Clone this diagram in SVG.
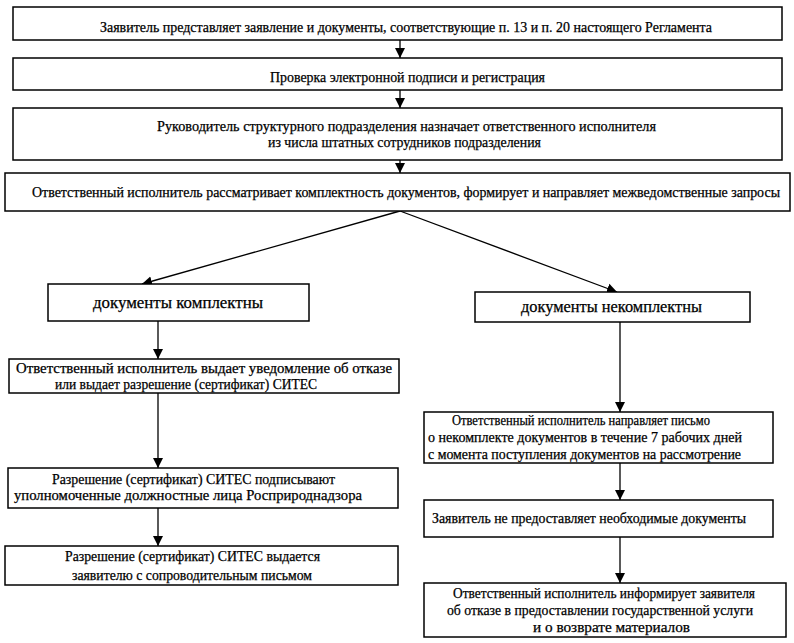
<svg xmlns="http://www.w3.org/2000/svg" width="794" height="643" viewBox="0 0 794 643">
<style>
.box{fill:#fff;stroke:#000;stroke-width:1.5}
text{font-family:'Liberation Serif','DejaVu Serif',serif;fill:#000;stroke:#000;stroke-width:0.25}
.t{font-size:14px}
.tb{font-size:16px}
.c{stroke:#000;stroke-width:1.3;fill:none}
</style>
<defs>
<marker id="ah" viewBox="0 0 10 12" refX="10" refY="6" markerWidth="10" markerHeight="12" markerUnits="userSpaceOnUse" orient="auto">
<path d="M0,1 L10,6 L0,11 Z" fill="#000"/>
</marker>
</defs>
<rect width="794" height="643" fill="#fff"/>
<g id="connectors">
<line class="c" x1="400" y1="40" x2="400" y2="58" marker-end="url(#ah)"/>
<line class="c" x1="400" y1="90" x2="400" y2="108" marker-end="url(#ah)"/>
<line class="c" x1="400" y1="160" x2="400" y2="173" marker-end="url(#ah)"/>
<line class="c" x1="400" y1="211" x2="142" y2="284" marker-end="url(#ah)"/>
<line class="c" x1="400" y1="211" x2="617" y2="292" marker-end="url(#ah)"/>
<line class="c" x1="158" y1="321" x2="158" y2="359" marker-end="url(#ah)"/>
<line class="c" x1="158" y1="393" x2="158" y2="468" marker-end="url(#ah)"/>
<line class="c" x1="158" y1="508" x2="158" y2="546" marker-end="url(#ah)"/>
<line class="c" x1="620" y1="322" x2="620" y2="412" marker-end="url(#ah)"/>
<line class="c" x1="620" y1="463" x2="620" y2="500" marker-end="url(#ah)"/>
<line class="c" x1="620" y1="537" x2="620" y2="583" marker-end="url(#ah)"/>
</g>
<g id="n1">
<rect class="box" x="13" y="7" width="769" height="33"/>
<text class="t" x="100" y="32" textLength="612" lengthAdjust="spacingAndGlyphs" font-family="Liberation Serif">Заявитель представляет заявление и документы, соответствующие п. 13 и п. 20  настоящего Регламента</text>
</g>
<g id="n2">
<rect class="box" x="13" y="58" width="769" height="32"/>
<text class="t" x="270" y="82" textLength="275" lengthAdjust="spacingAndGlyphs">Проверка электронной подписи и регистрация</text>
</g>
<g id="n3">
<rect class="box" x="13" y="108" width="769" height="52"/>
<text class="t" x="157" y="131" textLength="499" lengthAdjust="spacingAndGlyphs">Руководитель  структурного подразделения  назначает ответственного исполнителя</text>
<text class="t" x="268" y="147" textLength="273" lengthAdjust="spacingAndGlyphs">из числа штатных сотрудников подразделения</text>
</g>
<g id="n4">
<rect class="box" x="5" y="173" width="785" height="38"/>
<text class="t" x="32" y="197" textLength="748" lengthAdjust="spacingAndGlyphs">Ответственный исполнитель рассматривает комплектность документов, формирует и направляет межведомственные запросы</text>
</g>
<g id="n5">
<rect class="box" x="48" y="284" width="261" height="37"/>
<text class="tb" x="93" y="308" textLength="170" lengthAdjust="spacingAndGlyphs">документы комплектны</text>
</g>
<g id="n6">
<rect class="box" x="475" y="292" width="275" height="30"/>
<text class="tb" x="521" y="312" textLength="181" lengthAdjust="spacingAndGlyphs">документы некомплектны</text>
</g>
<g id="n7">
<rect class="box" x="9" y="359" width="390" height="34"/>
<text class="t" x="16" y="373" textLength="376" lengthAdjust="spacingAndGlyphs">Ответственный исполнитель выдает уведомление об отказе</text>
<text class="t" x="55" y="389" textLength="262" lengthAdjust="spacingAndGlyphs">или выдает разрешение (сертификат) СИТЕС</text>
</g>
<g id="n8">
<rect class="box" x="8" y="468" width="390" height="40"/>
<text class="t" x="52" y="484" textLength="283" lengthAdjust="spacingAndGlyphs">Разрешение (сертификат) СИТЕС подписывают</text>
<text class="t" x="14" y="500" textLength="348" lengthAdjust="spacingAndGlyphs">уполномоченные должностные лица Росприроднадзора</text>
</g>
<g id="n9">
<rect class="box" x="5" y="546" width="393" height="39"/>
<text class="t" x="65" y="561" textLength="255" lengthAdjust="spacingAndGlyphs">Разрешение (сертификат) СИТЕС выдается</text>
<text class="t" x="72" y="580" textLength="240" lengthAdjust="spacingAndGlyphs">заявителю с сопроводительным письмом</text>
</g>
<g id="n10">
<rect class="box" x="424" y="412" width="349" height="51"/>
<text class="t" x="452" y="425" textLength="258" lengthAdjust="spacingAndGlyphs">Ответственный исполнитель направляет письмо</text>
<text class="t" x="428" y="442" textLength="314" lengthAdjust="spacingAndGlyphs">о некомплекте документов в течение 7 рабочих дней</text>
<text class="t" x="428" y="459" textLength="313" lengthAdjust="spacingAndGlyphs">с момента поступления документов на рассмотрение</text>
</g>
<g id="n11">
<rect class="box" x="424" y="500" width="349" height="37"/>
<text class="t" x="432" y="523" textLength="314" lengthAdjust="spacingAndGlyphs">Заявитель не предоставляет необходимые документы</text>
</g>
<g id="n12">
<rect class="box" x="424" y="583" width="362" height="54"/>
<text class="t" x="453" y="598" textLength="302" lengthAdjust="spacingAndGlyphs">Ответственный исполнитель информирует заявителя</text>
<text class="t" x="447" y="615" textLength="306" lengthAdjust="spacingAndGlyphs">об отказе в предоставлении государственной услуги</text>
<text class="t" x="533" y="632" textLength="157" lengthAdjust="spacingAndGlyphs">и о возврате материалов</text>
</g>
</svg>
